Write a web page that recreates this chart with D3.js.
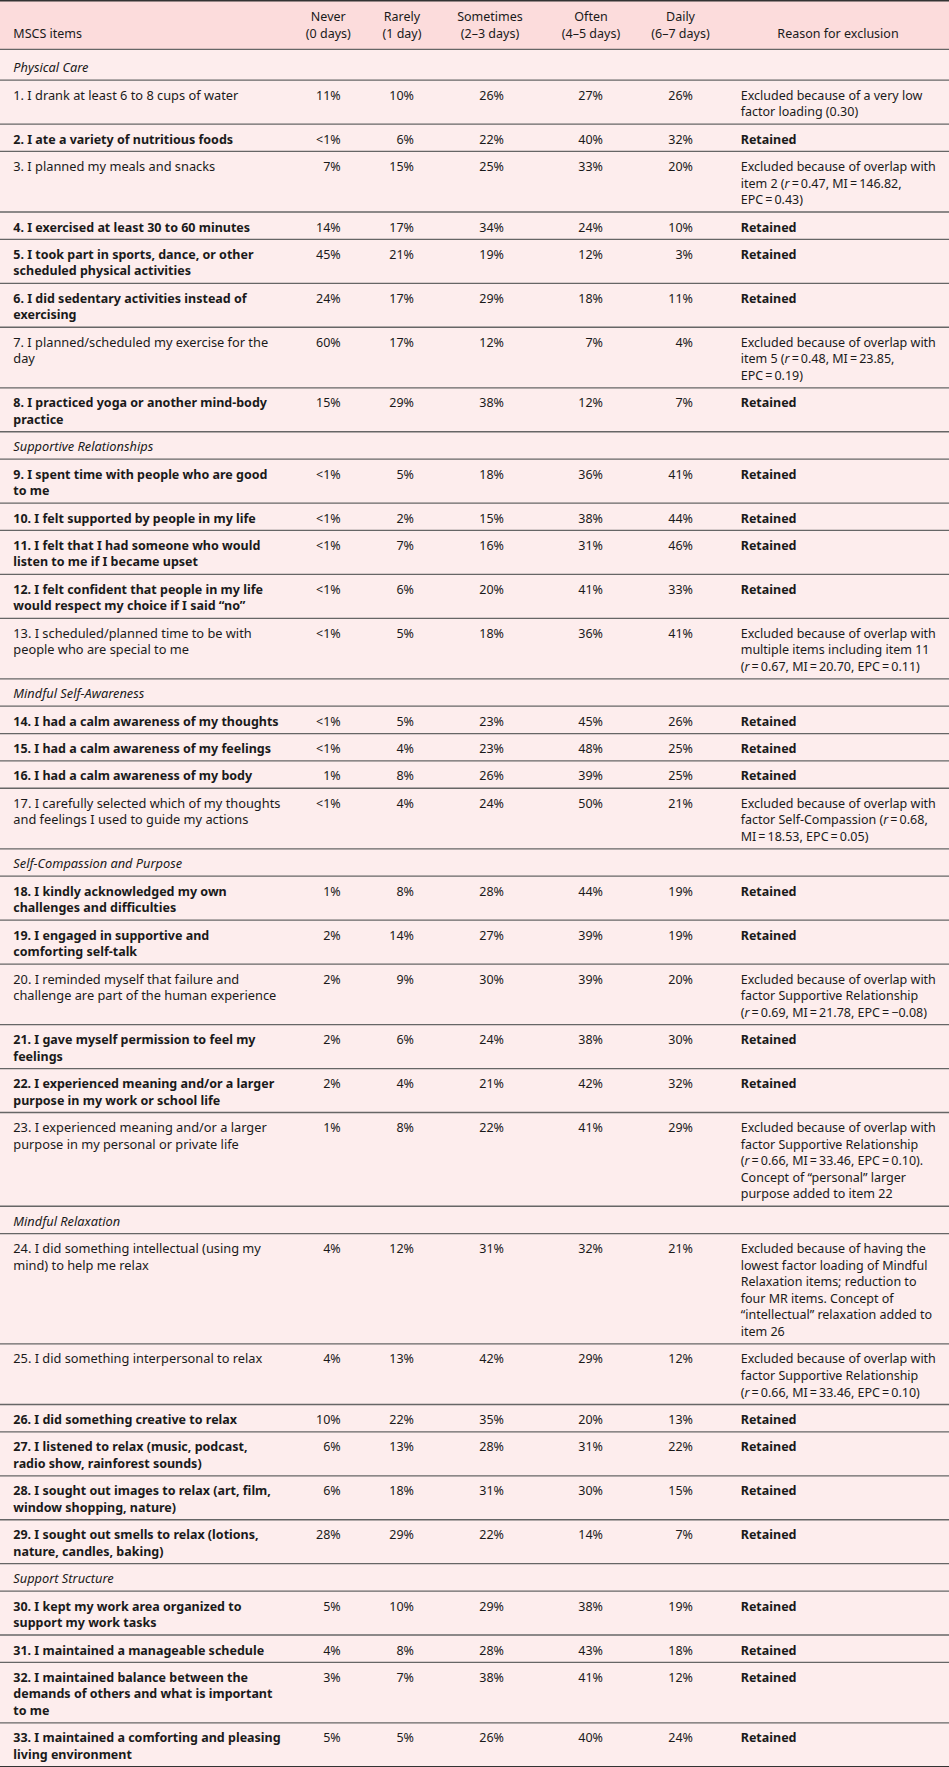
<!DOCTYPE html>
<html>
<head>
<meta charset="utf-8">
<script src="https://cdn.jsdelivr.net/npm/d3@7"></script>
<style>
  body { margin: 0; background: #fff; }
  text { font-family: "Noto Sans", sans-serif; font-size: 12.5px; fill: #1a1a1a; }
  text.item, text.section { font-size: 12.8px; }
  text.item.bold { font-size: 12.5px; }
</style>
</head>
<body>
<script>
// column headings (two lines each)
var headers = [
    ["", "MSCS items"],
    ["Never", "(0 days)"],
    ["Rarely", "(1 day)"],
    ["Sometimes", "(2\u20133 days)"],
    ["Often", "(4\u20135 days)"],
    ["Daily", "(6\u20137 days)"],
    ["", "Reason for exclusion"]
];

// section name and the item number it starts at
var sections = [
    { name: "Physical Care", first: 1 },
    { name: "Supportive Relationships", first: 9 },
    { name: "Mindful Self-Awareness", first: 14 },
    { name: "Self-Compassion and Purpose", first: 18 },
    { name: "Mindful Relaxation", first: 24 },
    { name: "Support Structure", first: 30 }
];

var items = [
    "1. I drank at least 6 to 8 cups of water",
    "2. I ate a variety of nutritious foods",
    "3. I planned my meals and snacks",
    "4. I exercised at least 30 to 60 minutes",
    "5. I took part in sports, dance, or other\nscheduled physical activities",
    "6. I did sedentary activities instead of\nexercising",
    "7. I planned/scheduled my exercise for the\nday",
    "8. I practiced yoga or another mind-body\npractice",
    "9. I spent time with people who are good\nto me",
    "10. I felt supported by people in my life",
    "11. I felt that I had someone who would\nlisten to me if I became upset",
    "12. I felt confident that people in my life\nwould respect my choice if I said \u201cno\u201d",
    "13. I scheduled/planned time to be with\npeople who are special to me",
    "14. I had a calm awareness of my thoughts",
    "15. I had a calm awareness of my feelings",
    "16. I had a calm awareness of my body",
    "17. I carefully selected which of my thoughts\nand feelings I used to guide my actions",
    "18. I kindly acknowledged my own\nchallenges and difficulties",
    "19. I engaged in supportive and\ncomforting self-talk",
    "20. I reminded myself that failure and\nchallenge are part of the human experience",
    "21. I gave myself permission to feel my\nfeelings",
    "22. I experienced meaning and/or a larger\npurpose in my work or school life",
    "23. I experienced meaning and/or a larger\npurpose in my personal or private life",
    "24. I did something intellectual (using my\nmind) to help me relax",
    "25. I did something interpersonal to relax",
    "26. I did something creative to relax",
    "27. I listened to relax (music, podcast,\nradio show, rainforest sounds)",
    "28. I sought out images to relax (art, film,\nwindow shopping, nature)",
    "29. I sought out smells to relax (lotions,\nnature, candles, baking)",
    "30. I kept my work area organized to\nsupport my work tasks",
    "31. I maintained a manageable schedule",
    "32. I maintained balance between the\ndemands of others and what is important\nto me",
    "33. I maintained a comforting and pleasing\nliving environment"
];

// percentages per frequency; 0.5 stands for "<1%"
var never =     [11, 0.5, 7, 14, 45, 24, 60, 15, 0.5, 0.5, 0.5, 0.5, 0.5, 0.5, 0.5, 1, 0.5, 1, 2, 2, 2, 2, 1, 4, 4, 10, 6, 6, 28, 5, 4, 3, 5];
var rarely =    [10, 6, 15, 17, 21, 17, 17, 29, 5, 2, 7, 6, 5, 5, 4, 8, 4, 8, 14, 9, 6, 4, 8, 12, 13, 22, 13, 18, 29, 10, 8, 7, 5];
var sometimes = [26, 22, 25, 34, 19, 29, 12, 38, 18, 15, 16, 20, 18, 23, 23, 26, 24, 28, 27, 30, 24, 21, 22, 31, 42, 35, 28, 31, 22, 29, 28, 38, 26];
var often =     [27, 40, 33, 24, 12, 18, 7, 12, 36, 38, 31, 41, 36, 45, 48, 39, 50, 44, 39, 39, 38, 42, 41, 32, 29, 20, 31, 30, 14, 38, 43, 41, 40];
var daily =     [26, 32, 20, 10, 3, 11, 4, 7, 41, 44, 46, 33, 41, 26, 25, 25, 21, 19, 19, 20, 30, 32, 29, 21, 12, 13, 22, 15, 7, 19, 18, 12, 24];

var R = "Retained";
var reasons = [
    "Excluded because of a very low\nfactor loading (0.30)",
    R,
    "Excluded because of overlap with\nitem 2 (*r* = 0.47, MI = 146.82,\nEPC = 0.43)",
    R, R, R,
    "Excluded because of overlap with\nitem 5 (*r* = 0.48, MI = 23.85,\nEPC = 0.19)",
    R, R, R, R, R,
    "Excluded because of overlap with\nmultiple items including item 11\n(*r* = 0.67, MI = 20.70, EPC = 0.11)",
    R, R, R,
    "Excluded because of overlap with\nfactor Self-Compassion (*r* = 0.68,\nMI = 18.53, EPC = 0.05)",
    R, R,
    "Excluded because of overlap with\nfactor Supportive Relationship\n(*r* = 0.69, MI = 21.78, EPC = \u22120.08)",
    R, R,
    "Excluded because of overlap with\nfactor Supportive Relationship\n(*r* = 0.66, MI = 33.46, EPC = 0.10).\nConcept of \u201cpersonal\u201d larger\npurpose added to item 22",
    "Excluded because of having the\nlowest factor loading of Mindful\nRelaxation items; reduction to\nfour MR items. Concept of\n\u201cintellectual\u201d relaxation added to\nitem 26",
    "Excluded because of overlap with\nfactor Supportive Relationship\n(*r* = 0.66, MI = 33.46, EPC = 0.10)",
    R, R, R, R, R, R, R, R
];

// layout
var width = 949, height = 1767;
var headerH = 49.3;
var lineH = 16.6, pad = 10.75, base = 19.5;
var textX = 13.3, reasonX = 740.7;
var valueRight = [340.7, 414, 504, 603, 693];
var headCenter = [328.3, 402, 490, 591, 680.5, 838];

var fmt = d => d < 1 ? "<1%" : d + "%";

// build the rows: section rows interleaved with item rows
var rows = [];
items.forEach((t, i) => {
    var sec = sections.find(s => s.first === i + 1);
    if (sec) rows.push({ type: "section", name: sec.name, lines: 1, extra: i === 0 ? 3.5 : 0 });
    var itemLines = t.split("\n");
    var reasonLines = reasons[i].split("\n");
    rows.push({
        type: "item",
        lines: Math.max(itemLines.length, reasonLines.length),
        itemLines: itemLines,
        reasonLines: reasonLines,
        retained: reasons[i] === R,
        values: [never[i], rarely[i], sometimes[i], often[i], daily[i]],
        extra: 0
    });
});

var yPos = headerH;
rows.forEach(r => {
    r.y = yPos;
    r.h = pad + r.lines * lineH + r.extra;
    yPos += r.h;
});

var svg = d3.select("body")
    .append("svg")
    .attr("width", width)
    .attr("height", height);

// backgrounds
svg.append("rect")
    .attr("x", 0).attr("y", 0)
    .attr("width", width).attr("height", yPos)
    .attr("fill", "#fdeded");
svg.append("rect")
    .attr("x", 0).attr("y", 0)
    .attr("width", width).attr("height", headerH)
    .attr("fill", "#fcdcdc");

// header text
var head = svg.append("g").attr("class", "head");
head.append("text")
    .attr("x", textX).attr("y", 37.7)
    .text(headers[0][1]);
headers.slice(1).forEach((h, i) => {
    h.forEach((line, j) => {
        if (!line) return;
        head.append("text")
            .attr("x", headCenter[i])
            .attr("y", 20.7 + j * 17)
            .attr("text-anchor", "middle")
            .text(line);
    });
});

// row lines
svg.append("g")
    .selectAll("line")
    .data([headerH].concat(rows.map(r => r.y + r.h)))
    .enter()
    .append("line")
    .attr("x1", 0).attr("x2", width)
    .attr("y1", d => d).attr("y2", d => d)
    .attr("stroke", "#666")
    .attr("stroke-width", 1.3);

svg.append("line")
    .attr("x1", 0).attr("x2", width)
    .attr("y1", 0.75).attr("y2", 0.75)
    .attr("stroke", "#333").attr("stroke-width", 1.5);
svg.append("line")
    .attr("x1", 0).attr("x2", width)
    .attr("y1", yPos).attr("y2", yPos)
    .attr("stroke", "#333").attr("stroke-width", 1.5);

var rowG = svg.append("g")
    .selectAll("g")
    .data(rows)
    .enter()
    .append("g")
    .attr("transform", d => `translate(0,${d.y + base + d.extra})`);

// section names
rowG.filter(d => d.type === "section")
    .append("text")
    .attr("class", "section")
    .attr("x", textX)
    .attr("font-style", "italic")
    .text(d => d.name);

var itemG = rowG.filter(d => d.type === "item");

// item text
itemG.each(function (d) {
    var g = d3.select(this);
    d.itemLines.forEach((line, j) => {
        g.append("text")
            .attr("class", d.retained ? "item bold" : "item")
            .attr("x", textX)
            .attr("y", j * lineH)
            .attr("font-weight", d.retained ? "bold" : null)
            .text(line);
    });
});

// percentages
itemG.selectAll("text.val")
    .data(d => d.values)
    .enter()
    .append("text")
    .attr("class", "val")
    .attr("x", (d, i) => valueRight[i])
    .attr("text-anchor", "end")
    .text(fmt);

// reasons, *r* is written in italics
itemG.each(function (d) {
    var g = d3.select(this);
    d.reasonLines.forEach((line, j) => {
        var t = g.append("text")
            .attr("x", reasonX)
            .attr("y", j * lineH)
            .attr("font-weight", d.retained ? "bold" : null);
        line.replace(/ = /g, "\u2009=\u2009").split("*").forEach((part, k) => {
            if (!part) return;
            t.append("tspan")
                .attr("font-style", k % 2 ? "italic" : null)
                .text(part);
        });
    });
});
</script>
</body>
</html>
